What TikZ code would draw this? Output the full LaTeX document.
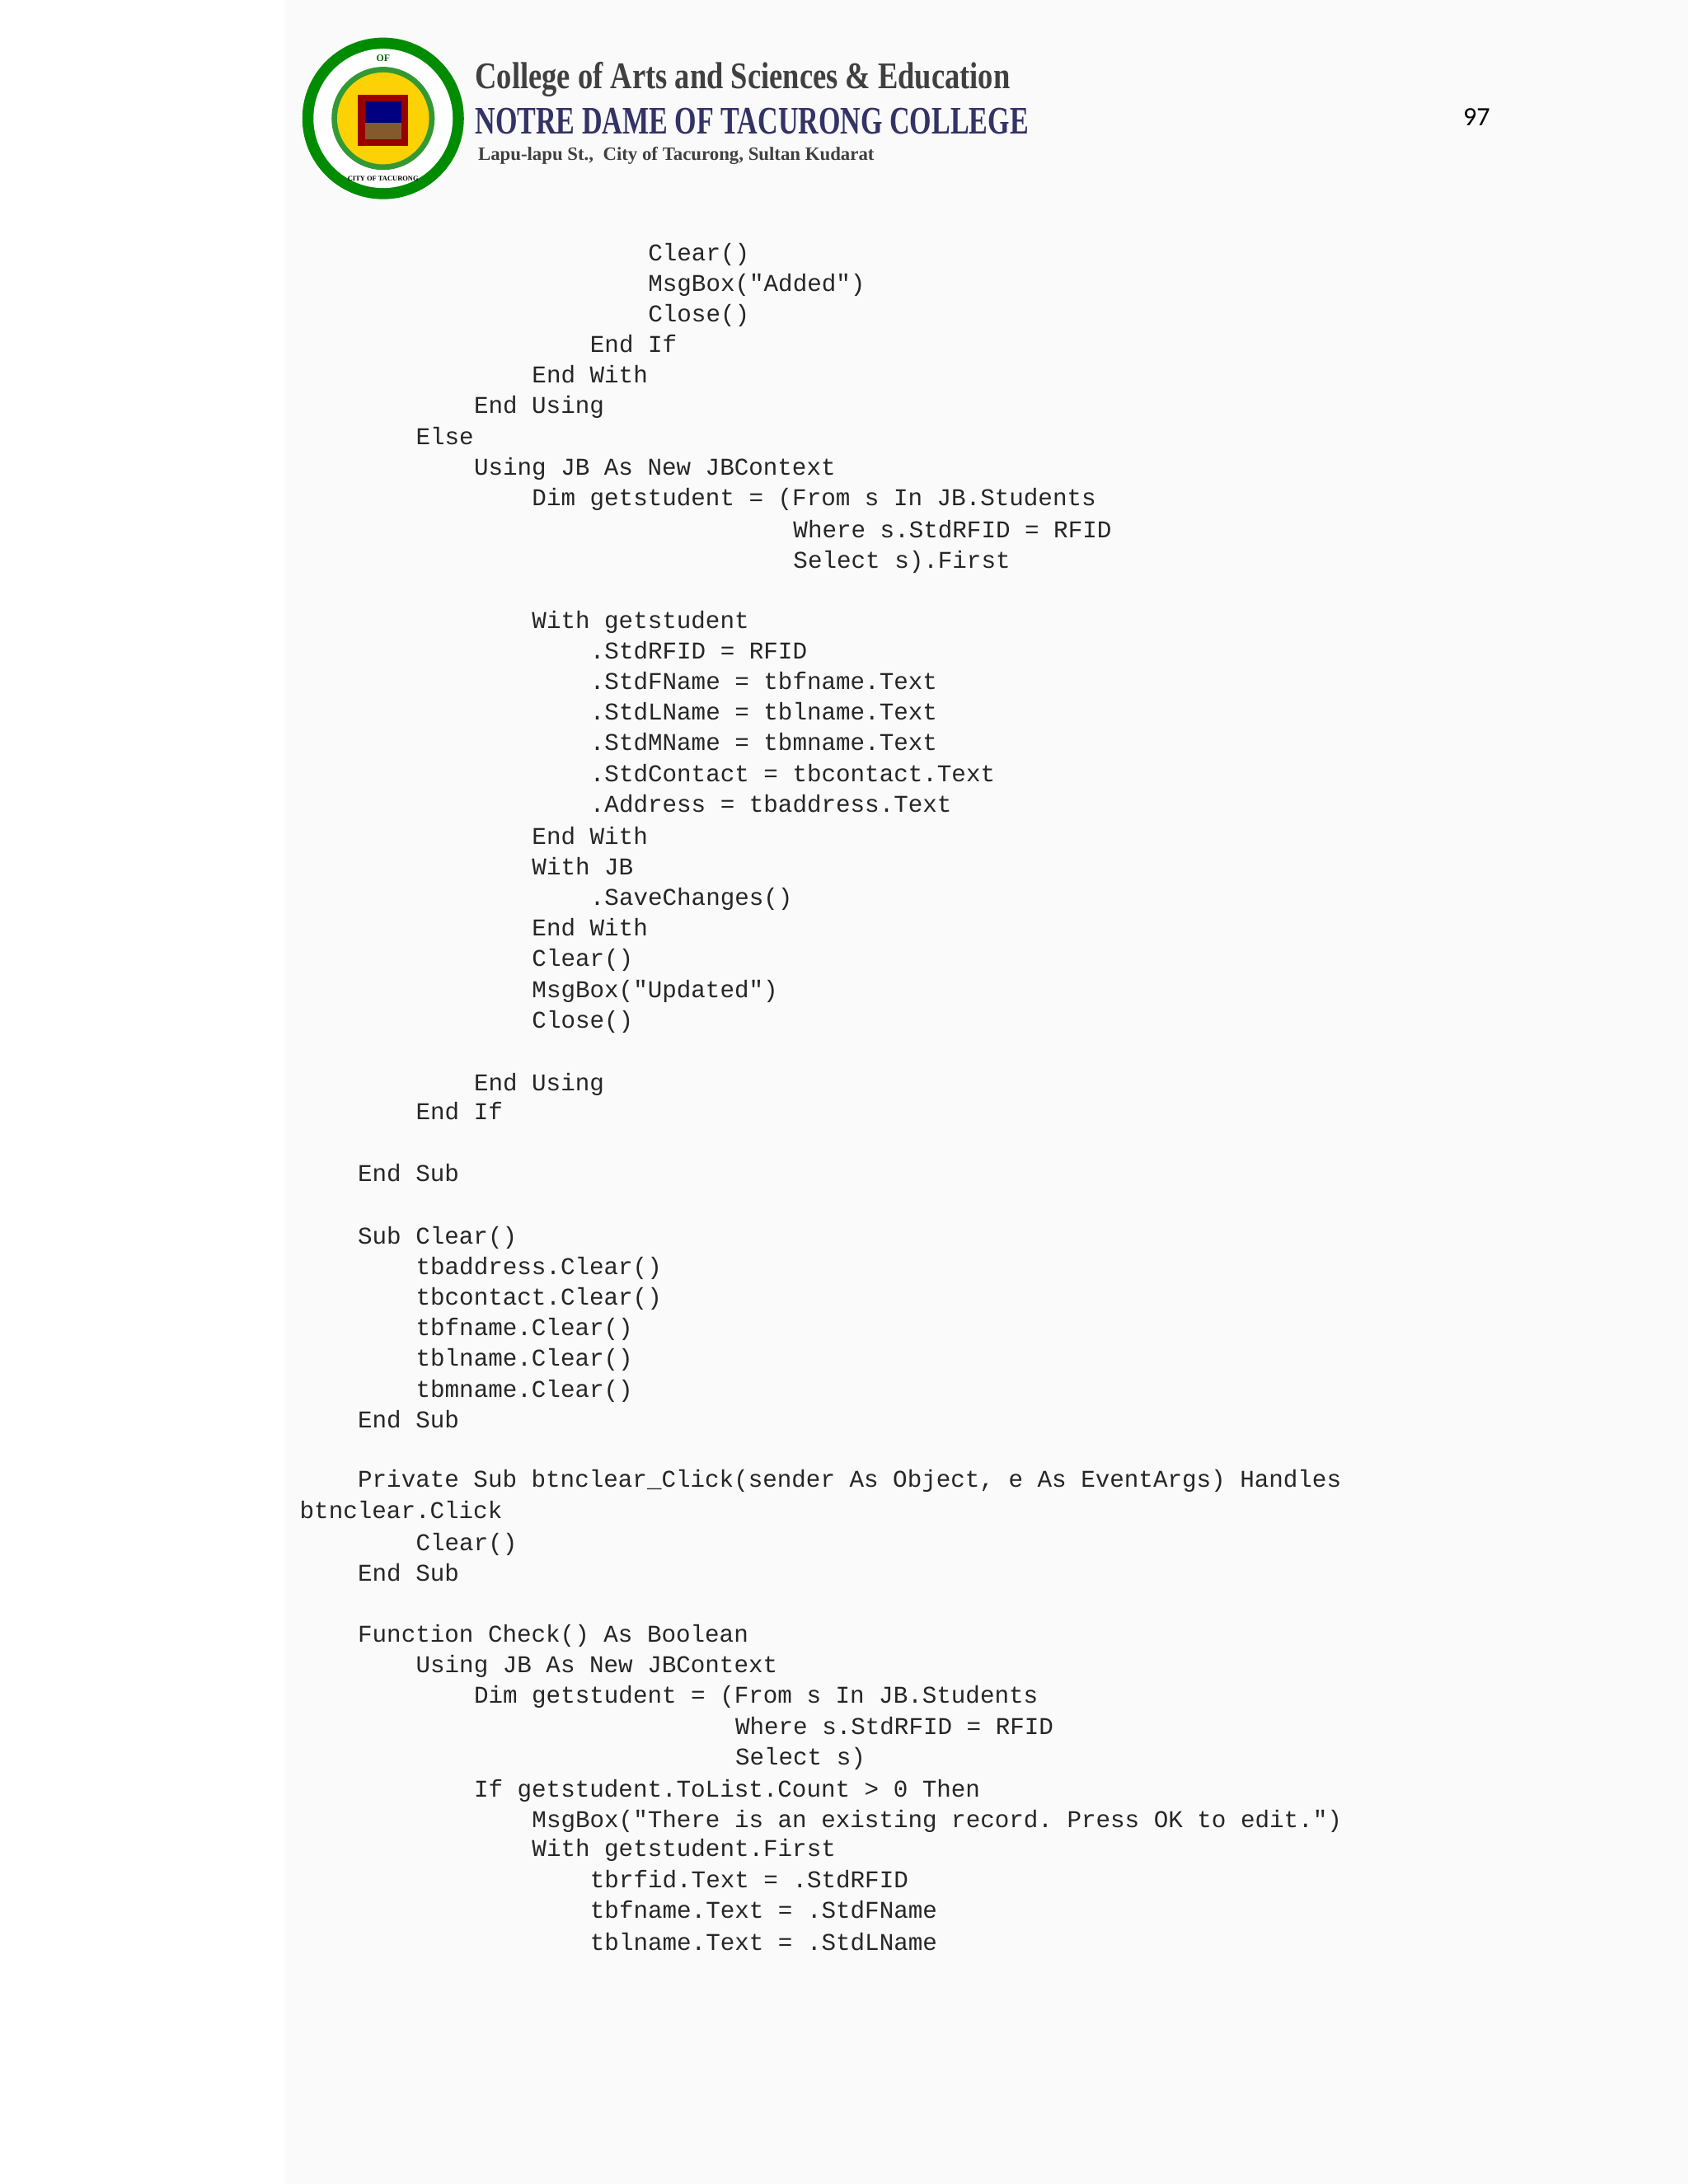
\documentclass[tikz,border=0pt]{standalone}
\usepackage{fontspec}
\setmonofont{Liberation Mono}
\newfontfamily\hdr{Liberation Serif}
\newfontfamily\pgn{Carlito}
\begin{document}
\begin{tikzpicture}[x=1pt,y=-1pt,
  codeline/.style={anchor=base west,inner sep=0pt,font=\fontsize{17.3}{20}\ttfamily,text=black!85}]
\useasboundingbox (0,0) rectangle (1212,1568);
\fill[white] (0,0) rectangle (1212,1568);
\fill[black!2] (205,0) rectangle (1212,1568);
\newcommand{\cl}[3]{\node[codeline] at ({215+#1*10.42},{#2+6}) {\obeyspaces #3};}
% logo
\fill[green!55!black] (275,85) circle (58);
\fill[white] (275,85) circle (50);
\fill[green!50!black!80] (275,85) circle (37);
\fill[yellow!70!orange] (275,85) circle (33);
\fill[red!60!black] (257,68) rectangle (293,105);
\fill[blue!50!black] (262,73) rectangle (288,88);
\fill[brown!70!black] (262,88) rectangle (288,100);
\node[font=\hdr\bfseries\fontsize{7}{8}\selectfont,text=green!40!black] (ltop) at (275,42) {OF};
\node[font=\hdr\bfseries\fontsize{5}{6}\selectfont] (lbot) at (275,128) {CITY OF TACURONG};
% header text
\node[anchor=west,inner sep=0pt,xscale=0.8,font=\hdr\bfseries\fontsize{27}{30}\selectfont,text=black!75] (h1) at (341,57) {College of Arts and Sciences \& Education};
\node[anchor=west,inner sep=0pt,xscale=0.72,font=\hdr\bfseries\fontsize{28}{30}\selectfont,text=blue!25!black!80] (h2) at (341,87) {NOTRE DAME OF TACURONG COLLEGE};
\node[anchor=west,inner sep=0pt,font=\hdr\bfseries\fontsize{13.5}{15}\selectfont,text=black!75] (h3) at (343,112) {Lapu-lapu St.,\ \ City of Tacurong, Sultan Kudarat};
\node[font=\pgn\fontsize{19}{22}\selectfont] (pg) at (1060,84) {97};
% code
\cl{24}{181}{Clear()}
\cl{24}{203}{MsgBox("Added")}
\cl{24}{225}{Close()}
\cl{20}{247}{End If}
\cl{16}{269}{End With}
\cl{12}{291}{End Using}
\cl{8}{313}{Else}
\cl{12}{335}{Using JB As New JBContext}
\cl{16}{357}{Dim getstudent = (From s In JB.Students}
\cl{34}{380}{Where s.StdRFID = RFID}
\cl{34}{402}{Select s).First}
\cl{16}{445}{With getstudent}
\cl{20}{467}{.StdRFID = RFID}
\cl{20}{489}{.StdFName = tbfname.Text}
\cl{20}{511}{.StdLName = tblname.Text}
\cl{20}{533}{.StdMName = tbmname.Text}
\cl{20}{555}{.StdContact = tbcontact.Text}
\cl{20}{577}{.Address = tbaddress.Text}
\cl{16}{600}{End With}
\cl{16}{622}{With JB}
\cl{20}{644}{.SaveChanges()}
\cl{16}{666}{End With}
\cl{16}{688}{Clear()}
\cl{16}{710}{MsgBox("Updated")}
\cl{16}{732}{Close()}
\cl{12}{777}{End Using}
\cl{8}{798}{End If}
\cl{4}{842}{End Sub}
\cl{4}{887}{Sub Clear()}
\cl{8}{909}{tbaddress.Clear()}
\cl{8}{931}{tbcontact.Clear()}
\cl{8}{953}{tbfname.Clear()}
\cl{8}{975}{tblname.Clear()}
\cl{8}{997}{tbmname.Clear()}
\cl{4}{1019}{End Sub}
\cl{4}{1062}{Private Sub btnclear\_Click(sender As Object, e As EventArgs) Handles}
\cl{0}{1084}{btnclear.Click}
\cl{8}{1107}{Clear()}
\cl{4}{1129}{End Sub}
\cl{4}{1173}{Function Check() As Boolean}
\cl{8}{1195}{Using JB As New JBContext}
\cl{12}{1217}{Dim getstudent = (From s In JB.Students}
\cl{30}{1239}{Where s.StdRFID = RFID}
\cl{30}{1261}{Select s)}
\cl{12}{1284}{If getstudent.ToList.Count > 0 Then}
\cl{16}{1306}{MsgBox("There is an existing record. Press OK to edit.")}
\cl{16}{1327}{With getstudent.First}
\cl{20}{1349}{tbrfid.Text = .StdRFID}
\cl{20}{1371}{tbfname.Text = .StdFName}
\cl{20}{1394}{tblname.Text = .StdLName}
\end{tikzpicture}
\end{document}
